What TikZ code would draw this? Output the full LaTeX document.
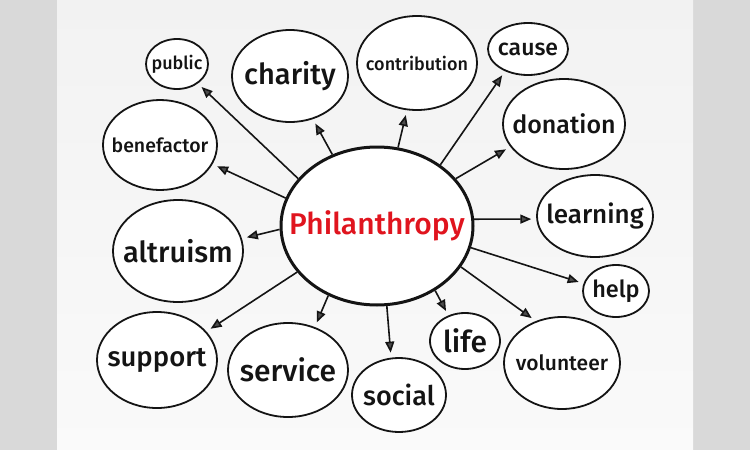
\documentclass[tikz,border=0pt]{standalone}
\usepackage{fontspec}
\setmainfont{Fira Sans Medium}
\usetikzlibrary{shapes.geometric,arrows.meta}
\definecolor{InkBlack}{HTML}{141414}
\definecolor{InkRed}{HTML}{E0141E}
\definecolor{SideGray}{HTML}{D9D9D9}
\definecolor{PaperGray}{HTML}{F2F2F2}

\begin{document}
\begin{tikzpicture}[
    x=1pt, y=-1pt,
    bubble/.style={ellipse, draw=InkBlack, line width=1.8pt, fill=white, inner sep=0pt},
    word/.style={font=\fontsize{#1}{#1}\selectfont, text=InkBlack, inner sep=0pt},
    spoke/.style={draw=InkBlack, line width=1.6pt, shorten >=5pt,
      -{Triangle[length=11pt, width=9pt, fill=black!70]}}
]

  % -------------------------------------------------------------
  % BACKGROUND
  % -------------------------------------------------------------
  \fill[SideGray] (0,0) rectangle (750,450);
  \shade[top color=PaperGray, bottom color=white!98!black] (57,0) rectangle (693,450);
  \useasboundingbox (0,0) rectangle (750,450);

  % -------------------------------------------------------------
  % CENTRE
  % -------------------------------------------------------------
  \node[bubble, line width=3pt, minimum width=192pt, minimum height=158pt] (phil) at (377,226) {};
  \node[font=\fontsize{30}{30}\selectfont, text=InkRed, inner sep=0pt] at (phil) {Philanthropy};

  % -------------------------------------------------------------
  % BUBBLES (top row, clockwise)
  % -------------------------------------------------------------
  \node[bubble, minimum width=62pt, minimum height=50pt] (pub) at (177,64) {};
  \node[word=18] at (pub) {public};

  \node[bubble, minimum width=116pt, minimum height=92pt] (cha) at (290,76) {};
  \node[word=29] at (cha) {charity};

  \node[bubble, minimum width=120pt, minimum height=94pt] (con) at (417,63) {};
  \node[word=18] at (con) {contribution};

  \node[bubble, minimum width=80pt, minimum height=52pt] (cau) at (528,49) {};
  \node[word=23] at (cau) {cause};

  \node[bubble, minimum width=122pt, minimum height=90pt] (don) at (564,124) {};
  \node[word=25] at (don) {donation};

  \node[bubble, minimum width=116pt, minimum height=82pt] (lea) at (595,216) {};
  \node[word=26] at (lea) {learning};

  \node[bubble, minimum width=66pt, minimum height=52pt] (hel) at (616,291) {};
  \node[word=23.5] at (hel) {help};

  \node[bubble, minimum width=116pt, minimum height=92pt] (vol) at (562,363) {};
  \node[word=21] at (vol) {volunteer};

  \node[bubble, minimum width=70pt, minimum height=56pt] (lif) at (465,341) {};
  \node[word=30] at (lif) {life};

  \node[bubble, minimum width=94pt, minimum height=74pt] (soc) at (399,395) {};
  \node[word=27] at (soc) {social};

  \node[bubble, minimum width=120pt, minimum height=94pt] (ser) at (288,370) {};
  \node[word=30] at (ser) {service};

  \node[bubble, minimum width=120pt, minimum height=96pt] (sup) at (157,360) {};
  \node[word=27.5] at (sup) {support};

  \node[bubble, minimum width=130pt, minimum height=102pt] (alt) at (178,251) {};
  \node[word=29] at (alt) {altruism};

  \node[bubble, minimum width=114pt, minimum height=90pt] (ben) at (160,145) {};
  \node[word=19.5] at (ben) {benefactor};

  % -------------------------------------------------------------
  % SPOKES
  % -------------------------------------------------------------
  \draw[spoke] (phil.149) -- (pub.317);
  \draw[spoke] (phil.122) -- (cha.298);
  \draw[spoke] (phil.163) -- (ben.340);
  \draw[spoke] (phil.75)  -- (con.258);
  \draw[spoke] (phil.44)  -- (cau.224);
  \draw[spoke] (phil.31)  -- (don.203);
  \draw[spoke] (phil.4)   -- (lea.183);
  \draw[spoke] (phil.182) -- (alt.11);
  \draw[spoke] (phil.210) -- (sup.30);
  \draw[spoke] (phil.235) -- (ser.58);
  \draw[spoke] (phil.277) -- (soc.102);
  \draw[spoke] (phil.312) -- (lif.123);
  \draw[spoke] (phil.334) -- (vol.122);
  \draw[spoke] (phil.347) -- (hel.167);

\end{tikzpicture}
\end{document}
